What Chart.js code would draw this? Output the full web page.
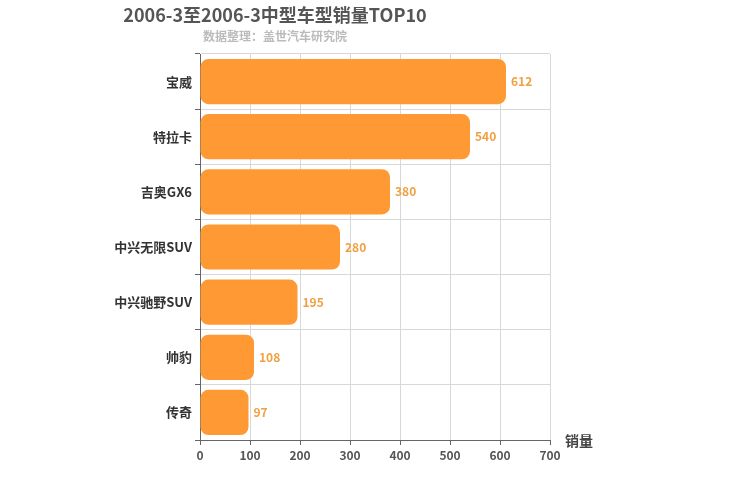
<!DOCTYPE html>
<html>
<head>
<meta charset="utf-8">
<script src="https://cdn.jsdelivr.net/npm/chart.js@4"></script>
<style>
  body { margin: 0; background: #fff; }
</style>
</head>
<body>
<canvas id="c" width="750" height="500"></canvas>
<script>
const categories = ["宝威", "特拉卡", "吉奥GX6", "中兴无限SUV", "中兴驰野SUV", "帅豹", "传奇"];
const sales = [612, 540, 380, 280, 195, 108, 97];
const xTicks = [0, 100, 200, 300, 400, 500, 600, 700];

const FONT = "'Noto Sans CJK SC', 'DejaVu Sans', sans-serif";

// value labels at bar ends + axis name
const extras = {
  id: "extras",
  afterDatasetsDraw(chart) {
    const ctx = chart.ctx;
    const meta = chart.getDatasetMeta(0);
    ctx.save();
    ctx.font = "bold 12px " + FONT;
    ctx.fillStyle = "#f0a040";
    ctx.textBaseline = "middle";
    meta.data.forEach((bar, i) => {
      ctx.fillText(String(sales[i]), bar.x + 5, bar.y);
    });
    ctx.font = "bold 14px " + FONT;
    ctx.fillStyle = "#444";
    ctx.fillText("销量", chart.chartArea.right + 15, chart.chartArea.bottom + 1);
    ctx.restore();
  },
};

new Chart(document.getElementById("c"), {
  type: "bar",
  data: {
    labels: categories,
    datasets: [{
      data: sales,
      backgroundColor: "#ff9933",
      borderRadius: 8,
      borderSkipped: false,
      barPercentage: 0.82,
      categoryPercentage: 1.0,
    }],
  },
  options: {
    indexAxis: "y",
    responsive: false,
    animation: false,
    devicePixelRatio: 1,
    layout: { padding: { left: 0, right: 200, top: 0, bottom: 0 } },
    plugins: {
      legend: { display: false },
      tooltip: { enabled: false },
      title: {
        display: true,
        text: "2006-3至2006-3中型车型销量TOP10",
        color: "#555",
        font: { family: FONT, size: 18, weight: "bold" },
        padding: { top: 4, bottom: 4 },
      },
      subtitle: {
        display: true,
        text: "数据整理：盖世汽车研究院",
        color: "#bbb",
        font: { family: FONT, size: 12, weight: "bold" },
        padding: { bottom: 10 },
      },
    },
    scales: {
      x: {
        min: 0,
        max: 700,
        afterBuildTicks: (s) => { s.ticks = xTicks.map((v) => ({ value: v })); },
        ticks: { color: "#555", maxRotation: 0, font: { family: FONT, size: 12, weight: "bold" } },
        grid: { color: "#d8d8d8", tickColor: "#666", tickLength: 5 },
        border: { color: "#666" },
        afterFit: (s) => { s.height = 60; },
      },
      y: {
        ticks: { color: "#333", font: { family: FONT, size: 13, weight: "bold" } },
        grid: { color: "#d8d8d8", tickColor: "#666", tickLength: 5 },
        border: { color: "#666" },
        afterFit: (s) => { s.width = 200; },
      },
    },
  },
  plugins: [extras],
});
</script>
</body>
</html>
